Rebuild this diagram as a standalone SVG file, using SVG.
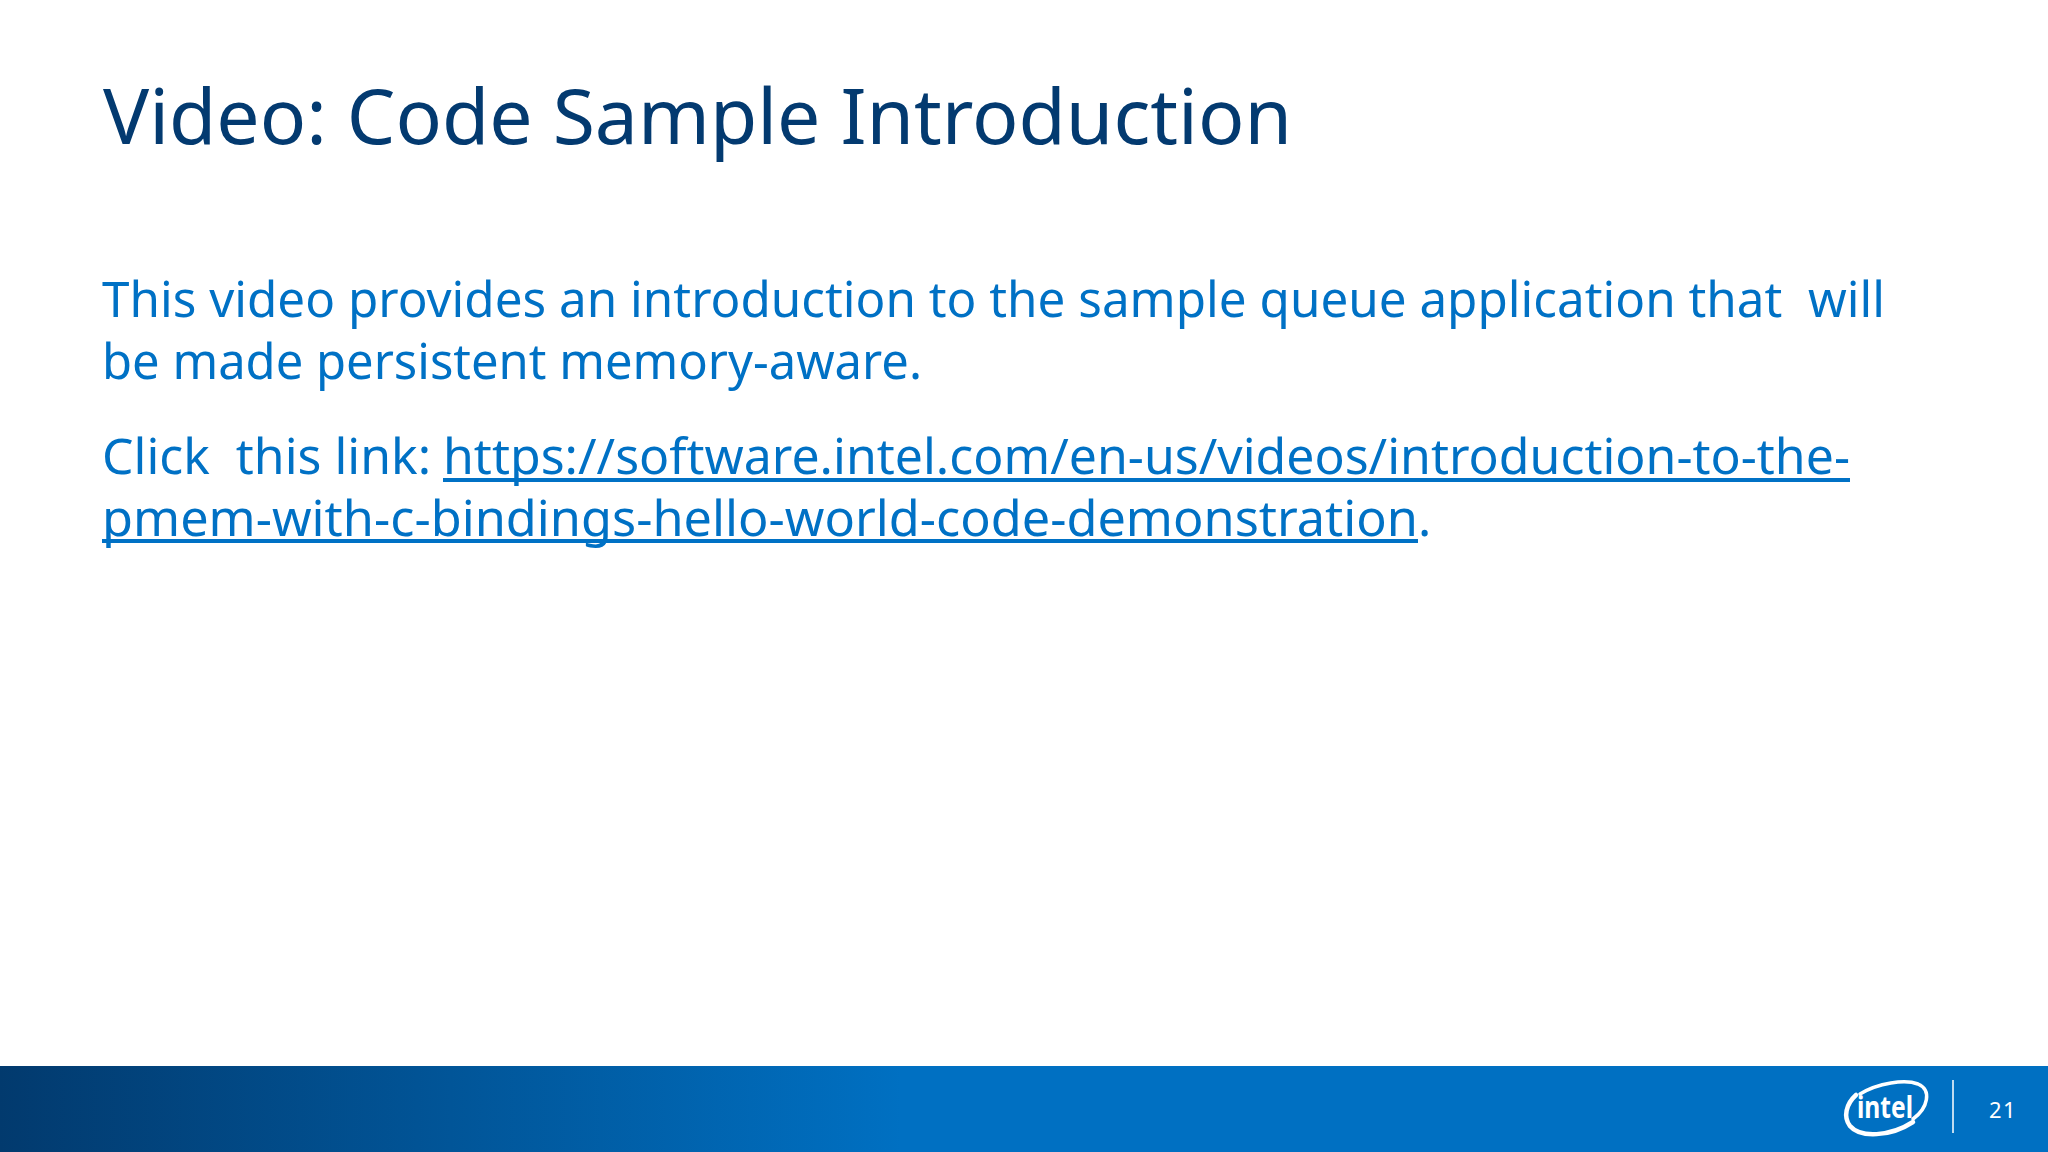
<svg xmlns="http://www.w3.org/2000/svg" width="2048" height="1152" viewBox="0 0 2048 1152">
<style>
text{font-family:"Noto Sans","Open Sans","Liberation Sans",sans-serif}
.t{font-size:77px;fill:#033a70}
.b{font-size:49.5px;fill:#0071c5}
.u{fill:none;stroke:#0071c5;stroke-width:4}
.s{fill:none;stroke:#fff;stroke-linecap:round}
</style>
<defs><linearGradient id="g" x1="0" x2="1" y1="0" y2="0"><stop offset="0" stop-color="#023a6e"/><stop offset="0.44" stop-color="#0070c2"/><stop offset="1" stop-color="#0070c2"/></linearGradient></defs>
<rect width="2048" height="1152" fill="#fff"/>
<text class="t" x="103" y="144" textLength="1189" lengthAdjust="spacingAndGlyphs">Video: Code Sample Introduction</text>
<text class="b" x="102" y="317" textLength="1783" lengthAdjust="spacingAndGlyphs" xml:space="preserve">This video provides an introduction to the sample queue application that  will</text>
<text class="b" x="102" y="379" textLength="820" lengthAdjust="spacingAndGlyphs">be made persistent memory-aware.</text>
<text class="b" x="102" y="474" textLength="329" lengthAdjust="spacingAndGlyphs" xml:space="preserve">Click  this link:</text>
<text class="b" x="443" y="474" textLength="1407" lengthAdjust="spacingAndGlyphs">https://software.intel.com/en-us/videos/introduction-to-the-</text>
<text class="b" x="102" y="536" textLength="1316" lengthAdjust="spacingAndGlyphs">pmem-with-c-bindings-hello-world-code-demonstration</text>
<text class="b" x="1418" y="536">.</text>
<path class="u" d="M443 480H1850M102 541H1418"/>
<rect y="1066" width="2048" height="86" fill="url(#g)"/>
<g id="logo">
<path class="s" stroke-width="3.5" d="M1860 1094C1878 1083 1905 1079 1918 1084C1932 1090 1928 1108 1913 1119"/>
<path class="s" stroke-width="4.5" d="M1856 1095C1846 1104 1843 1117 1850 1126C1860 1138 1890 1137 1913 1122"/>
<text x="1857" y="1118" font-size="30" font-weight="700" fill="#fff" textLength="56" lengthAdjust="spacingAndGlyphs">intel</text>
</g>
<path d="M1953 1080V1133" stroke="#fff" stroke-width="1.5" fill="none"/>
<text x="2003" y="1118" text-anchor="middle" font-size="22" fill="#fff" letter-spacing="1.5">21</text>
</svg>
